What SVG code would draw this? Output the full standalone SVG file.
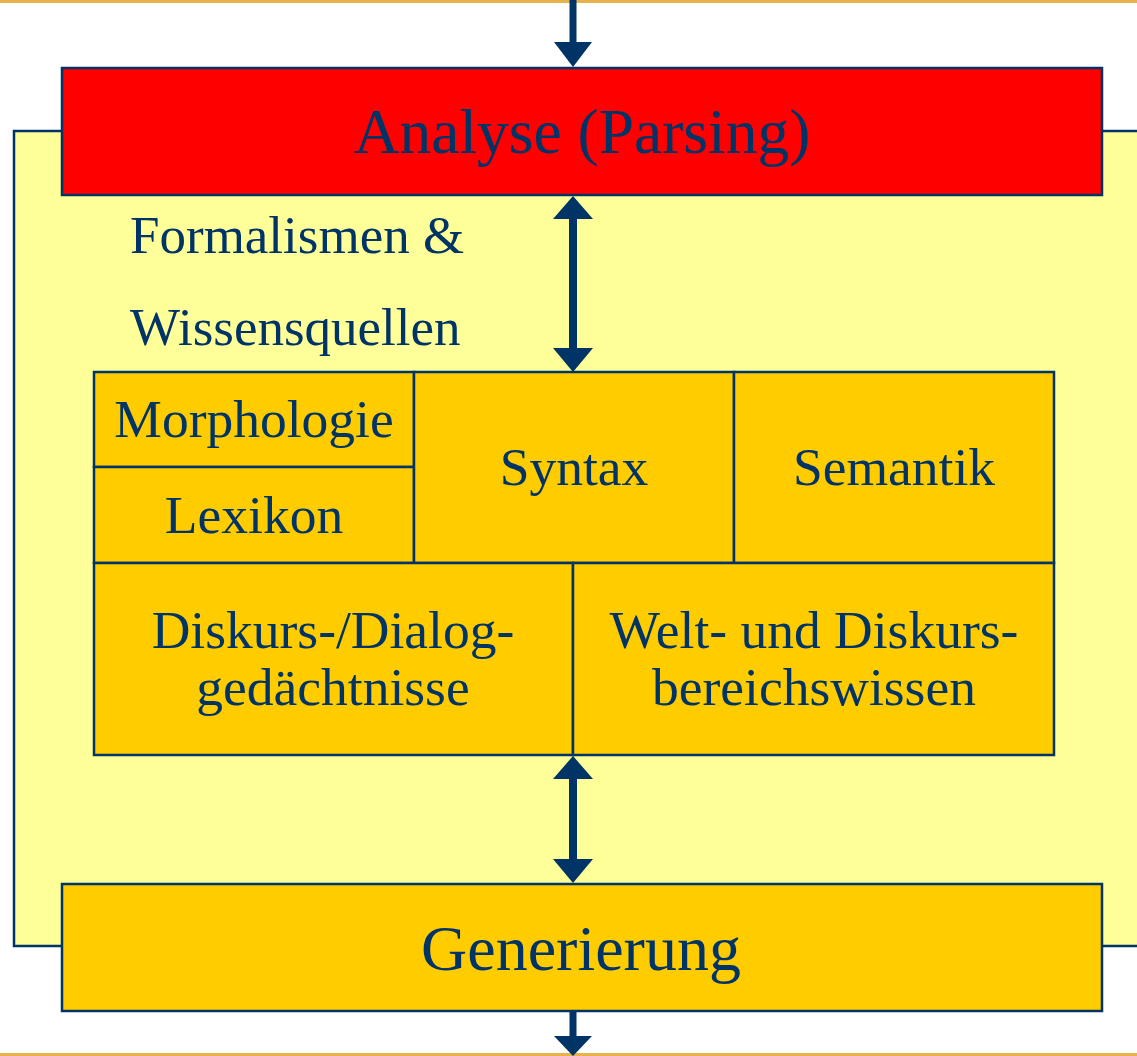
<svg xmlns="http://www.w3.org/2000/svg" width="1137" height="1056" viewBox="0 0 1137 1056">
<defs>
<style>
.t{font-family:"Liberation Serif","Times New Roman",serif;fill:#003366;text-anchor:middle}
.g{font-size:53.5px}
.b{stroke:#003366;stroke-width:2.5}
.c{fill:#FFCC00;stroke:#003366;stroke-width:2.5}
.a{fill:#003366}
</style>
</defs>
<rect x="0" y="0" width="1137" height="1056" fill="#ffffff"/>
<line x1="0" y1="1.5" x2="1137" y2="1.5" stroke="#E8B24A" stroke-width="3"/>
<line x1="0" y1="1054.5" x2="1137" y2="1054.5" stroke="#E8B24A" stroke-width="3"/>
<rect id="background" x="14" y="131" width="1130" height="815" fill="#FFFF99" stroke="#003366" stroke-width="2.5"/>
<text class="t" x="130" y="253" font-size="53" style="text-anchor:start">Formalismen &amp;</text>
<text class="t" x="130" y="345" font-size="53" style="text-anchor:start">Wissensquellen</text>
<g id="connectors">
<g id="c1"><rect class="a" x="569.5" y="0" width="7" height="44"/><polygon class="a" points="554,42 592,42 573,67"/></g>
<g id="c2"><rect class="a" x="569" y="215" width="8" height="137"/><polygon class="a" points="553,219 593,219 573,196"/><polygon class="a" points="553,348 593,348 573,372"/></g>
<g id="c3"><rect class="a" x="569" y="775" width="8" height="88"/><polygon class="a" points="553,779 593,779 573,756"/><polygon class="a" points="553,859 593,859 573,883"/></g>
<g id="c4"><rect class="a" x="569.5" y="1011" width="7" height="28"/><polygon class="a" points="554,1036 592,1036 573,1056"/></g>
</g>
<g id="analyse"><rect x="62" y="68" width="1040" height="127" fill="#FF0000" class="b"/><text class="t" x="582" y="153" font-size="63.5">Analyse (Parsing)</text></g>
<g id="morphologie"><rect class="c" x="94" y="372" width="320" height="95"/><text class="t g" x="254" y="437">Morphologie</text></g>
<g id="lexikon"><rect class="c" x="94" y="467" width="320" height="96"/><text class="t g" x="254" y="533">Lexikon</text></g>
<g id="syntax"><rect class="c" x="414" y="372" width="320" height="191"/><text class="t g" x="574" y="485">Syntax</text></g>
<g id="semantik"><rect class="c" x="734" y="372" width="320" height="191"/><text class="t g" x="894" y="485">Semantik</text></g>
<g id="diskurs"><rect class="c" x="94" y="563" width="479" height="192"/><text class="t g" x="333" y="648">Diskurs-/Dialog-</text><text class="t g" x="333" y="705">gedächtnisse</text></g>
<g id="welt"><rect class="c" x="573" y="563" width="481" height="192"/><text class="t g" x="814" y="648">Welt- und Diskurs-</text><text class="t g" x="814" y="705">bereichswissen</text></g>
<g id="generierung"><rect class="c" x="62" y="884" width="1040" height="127"/><text class="t" x="581" y="970" font-size="64">Generierung</text></g>
</svg>
